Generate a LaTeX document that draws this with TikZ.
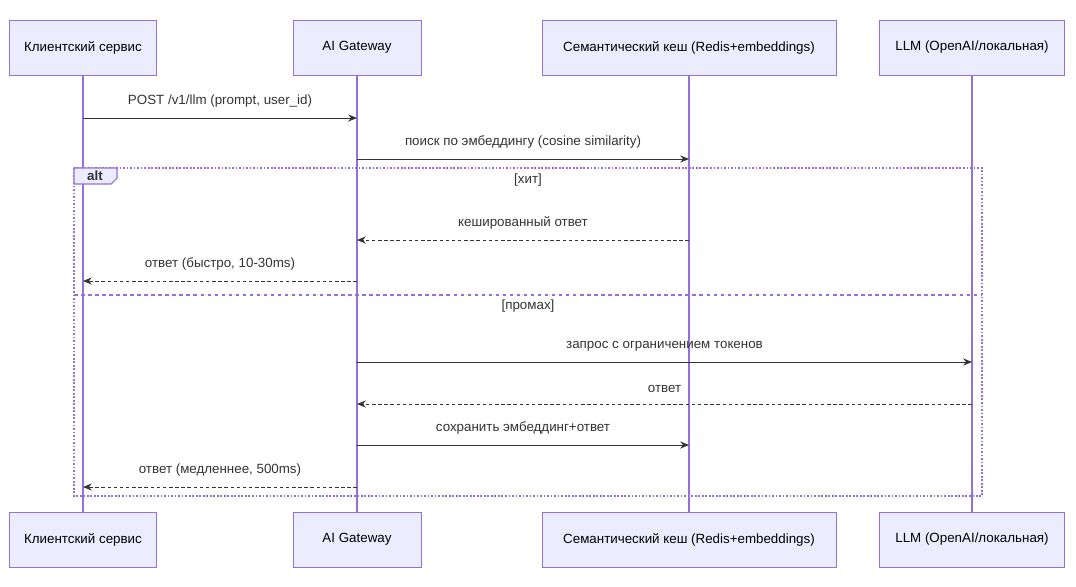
\documentclass[tikz,border=0pt]{standalone}
\usepackage{fontspec}
\setmainfont{Liberation Sans}
\usetikzlibrary{arrows.meta, positioning}
\definecolor{actfill}{HTML}{ECECFF}
\definecolor{actline}{HTML}{9370DB}
\definecolor{msg}{HTML}{333333}
\tikzset{
 actor/.style = {draw=actline, fill=actfill, minimum height=1.1cm, inner sep=0pt, font=\fontsize{7.6pt}{9pt}\selectfont},
 life/.style = {actline, line width=0.6pt},
 call/.style = {msg, line width=0.5pt, -{Stealth[length=5pt,width=4pt]}},
 reply/.style = {call, dash pattern=on 2pt off 1.5pt},
 lbl/.style = {font=\fontsize{7.6pt}{9pt}\selectfont, text=msg, inner sep=0pt},
}
\begin{document}
\begin{tikzpicture}[x=0.02cm, y=-0.02cm]
 \useasboundingbox[fill=white] (0,0) rectangle (1076,586);
 % actors
 \foreach \n/\x/\w/\t in {c/83/147/{Клиентский сервис}, g/357/128/{AI Gateway},
   s/689/294/{Семантический кеш (Redis+embeddings)}, l/972/185/{LLM (OpenAI/локальная)}} {
  \node[actor, minimum width=\w*0.02cm] (\n top) at (\x,47.5) {\t};
  \node[actor, minimum width=\w*0.02cm] (\n bot) at (\x,539.5) {\t};
 }
 \foreach \n in {c,g,s,l}
  \draw[life] (\n top.south) -- (\n bot.north);
 % anchors on the lifelines
 \foreach \n/\x in {c/83,g/357,s/689,l/972}
  \foreach \y in {118,159,240,281,362,404,445,487}
   \coordinate (\n\y) at (\x,\y);
 % alt frame
 \draw[actline, line width=0.6pt, dash pattern=on 1pt off 1pt] (74,168) rectangle (982,496);
 \draw[actline, line width=0.6pt, fill=actfill] (74,168) -- (117,168) -- (117,178) -- (111,184) -- (74,184) -- cycle;
 \node[lbl, font=\fontsize{7.6pt}{9pt}\selectfont\bfseries] (alt) at (95,176) {alt};
 \node[lbl] (hit) at (528,180) {[хит]};
 \draw[actline, line width=0.6pt, dash pattern=on 2pt off 2pt] (74,295) -- (982,295);
 \node[lbl] (miss) at (528,306) {[промах]};
 % messages
 \draw[call] (c118) -- (g118) node[lbl, midway, above=6pt] {POST /v1/llm (prompt, user\_id)};
 \draw[call] (g159) -- (s159) node[lbl, midway, above=6pt] {поиск по эмбеддингу (cosine similarity)};
 \draw[reply] (s240) -- (g240) node[lbl, midway, above=6pt] {кешированный ответ};
 \draw[reply] (g281) -- (c281) node[lbl, midway, above=6pt] {ответ (быстро, 10-30ms)};
 \draw[call] (g362) -- (l362) node[lbl, midway, above=6pt] {запрос с ограничением токенов};
 \draw[reply] (l404) -- (g404) node[lbl, midway, above=6pt] {ответ};
 \draw[call] (g445) -- (s445) node[lbl, midway, above=6pt] {сохранить эмбеддинг+ответ};
 \draw[reply] (g487) -- (c487) node[lbl, midway, above=6pt] {ответ (медленнее, 500ms)};
\end{tikzpicture}
\end{document}
